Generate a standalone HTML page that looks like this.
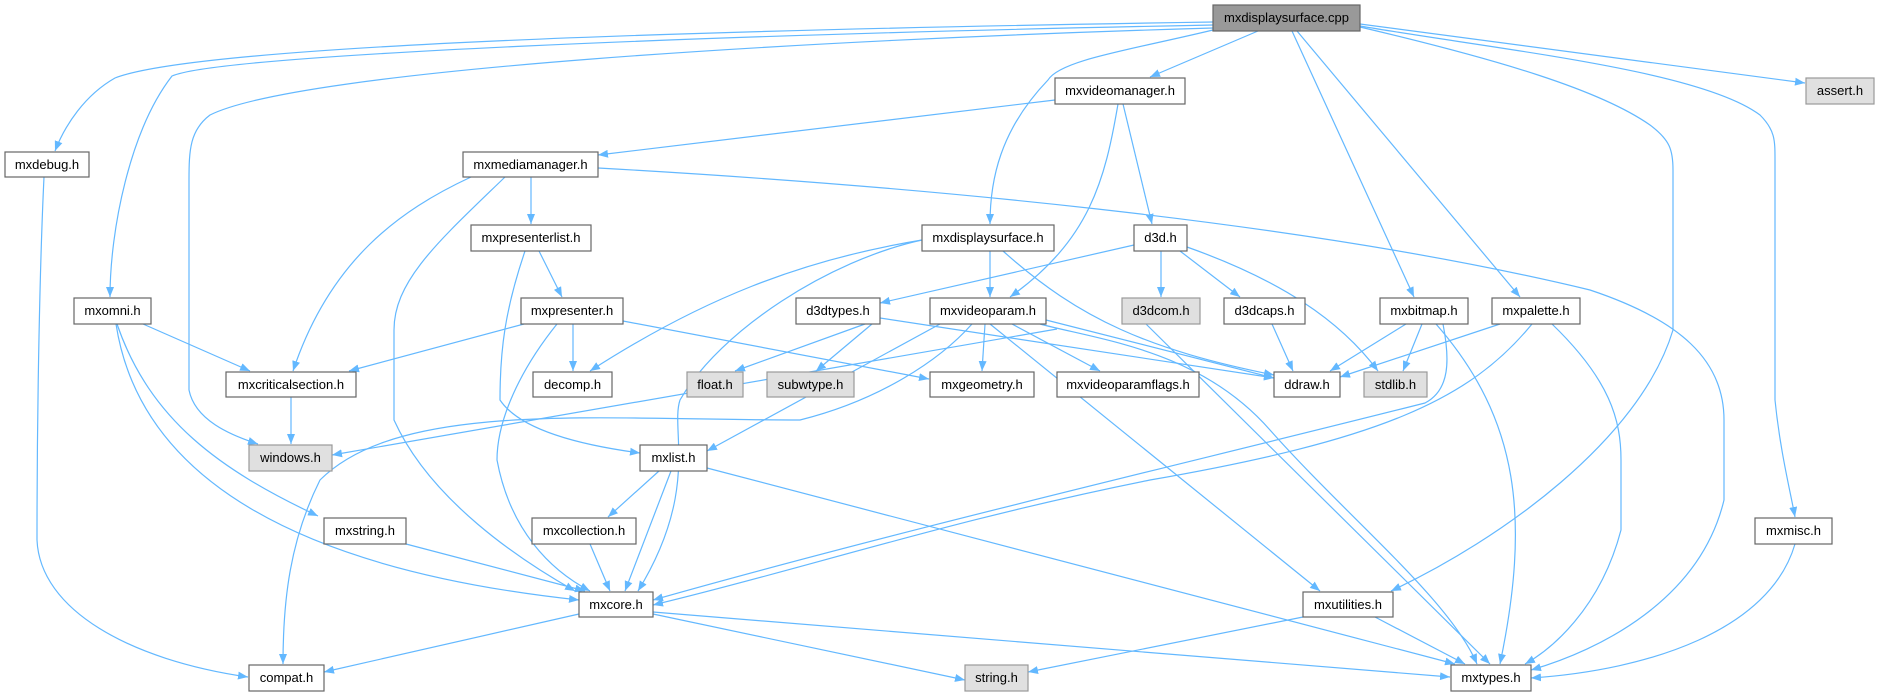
<!DOCTYPE html>
<html><head><meta charset="utf-8"><style>
html,body{margin:0;padding:0;background:#fff;}
svg{display:block;}
text{font-family:"Liberation Sans",Helvetica,Arial,sans-serif;font-size:13px;fill:#000;}
.e{fill:none;stroke:#63b8ff;stroke-width:1.2;}
.n rect{fill:#fff;stroke:#666;stroke-width:1.2;}
.g rect{fill:#e0e0e0;stroke:#999;stroke-width:1.2;}
</style></head><body>
<svg width="1883" height="696" viewBox="0 0 1883 696" xmlns="http://www.w3.org/2000/svg">
<defs><marker id="a" viewBox="0 0 10 8" refX="10" refY="4" markerWidth="10" markerHeight="8" markerUnits="userSpaceOnUse" orient="auto"><path d="M0,0 L10,4 L0,8 z" fill="#63b8ff"/></marker></defs>
<g class="e" marker-end="url(#a)">
<!-- from cpp -->
<path d="M1213,22 C700,30 200,45 115,78 C85,95 65,125 55,151"/>
<path d="M1213,25 C700,35 220,55 172,76 C130,130 110,230 110,297"/>
<path d="M1213,28 C800,40 300,70 210,115 C190,130 189,150 189,180 L189,390 C195,420 230,435 258,444"/>
<path d="M1258,31 L1150,77"/>
<path d="M1213,30 C1130,50 1060,60 1048,80 C1000,130 990,180 990,224"/>
<path d="M1292,31 L1414,297"/>
<path d="M1297,31 L1520,297"/>
<path d="M1360,24 L1805,83"/>
<path d="M1360,27 C1500,60 1600,90 1650,125 C1670,140 1673,150 1673,170 L1673,330 C1640,440 1500,540 1391,591"/>
<path d="M1360,26 C1500,50 1700,70 1760,115 C1775,130 1775,140 1775,160 L1775,400 C1780,450 1790,490 1795,517"/>
<!-- mxvideomanager -->
<path d="M1055,100 L598,155"/>
<path d="M1118,104 C1105,180 1090,240 1010,297"/>
<path d="M1123,104 L1152,224"/>
<!-- mxmediamanager -->
<path d="M531,177 L531,224"/>
<path d="M471,177 C400,210 330,260 293,371"/>
<path d="M505,177 C440,240 394,280 394,330 L394,420 C430,500 520,560 575,591"/>
<path d="M598,168 C900,185 1300,220 1590,290 C1680,320 1724,360 1724,420 L1724,500 C1700,600 1600,650 1531,670"/>
<!-- mxpresenterlist -->
<path d="M539,251 L562,297"/>
<path d="M525,251 C505,310 500,350 500,400 C520,430 580,445 640,453"/>
<!-- mxdisplaysurface.h -->
<path d="M990,251 L990,297"/>
<path d="M922,240 C800,260 700,300 590,371"/>
<path d="M922,240 C830,260 720,330 680,400 C670,430 700,490 638,591"/>
<path d="M1003,251 C1080,320 1150,350 1274,375"/>
<!-- d3d -->
<path d="M1134,245 L880,303"/>
<path d="M1161,251 L1161,297"/>
<path d="M1180,251 L1240,297"/>
<path d="M1187,247 C1280,280 1340,320 1378,371"/>
<!-- mxomni -->
<path d="M143,324 L250,371"/>
<path d="M117,324 C150,420 220,470 318,516"/>
<path d="M116,324 C140,480 300,570 579,600"/>
<!-- mxpresenter -->
<path d="M524,324 L349,371"/>
<path d="M573,324 L573,371"/>
<path d="M557,324 C520,370 497,420 497,460 C510,530 550,570 590,591"/>
<path d="M623,321 L929,379"/>
<!-- d3dtypes -->
<path d="M865,324 L735,371"/>
<path d="M872,324 L816,371"/>
<path d="M880,318 L1274,378"/>
<!-- mxvideoparam -->
<path d="M985,324 L982,371"/>
<path d="M1012,324 L1100,371"/>
<path d="M1046,320 L1274,378"/>
<path d="M1040,324 C1100,340 1200,350 1270,430 C1350,520 1450,600 1477,664"/>
<path d="M972,324 C940,360 880,400 800,420 C600,420 400,400 320,480 C290,540 283,600 283,664"/>
<!-- others row 4 -->
<path d="M1272,324 L1293,371"/>
<path d="M1406,324 L1330,371"/>
<path d="M1422,324 L1403,371"/>
<path d="M1500,324 L1340,377"/>
<path d="M1443,324 C1450,360 1450,390 1425,403 C1200,460 900,530 653,600"/>
<path d="M1532,324 C1470,400 1380,440 1150,480 C950,520 800,570 653,605"/>
<path d="M1436,324 C1520,420 1530,520 1500,664"/>
<path d="M1552,324 C1610,380 1621,420 1621,460 L1621,530 C1600,610 1550,650 1525,664"/>
<!-- row 5 -->
<path d="M291,397 L291,444"/>
<path d="M990,324 L1320,591"/>
<path d="M940,324 L707,451"/>
<path d="M1057,329 L332,455"/>
<path d="M1146,324 L1490,664"/>
<!-- row 6+ -->
<path d="M659,471 L608,517"/>
<path d="M671,471 L625,591"/>
<path d="M707,468 L1455,664"/>
<path d="M590,544 L610,591"/>
<path d="M406,544 L585,591"/>
<path d="M1795,544 C1770,630 1650,670 1531,678"/>
<path d="M1375,617 L1465,664"/>
<path d="M1303,617 L1028,672"/>
<path d="M579,614 L324,672"/>
<path d="M653,614 L965,680"/>
<path d="M653,612 L1450,677"/>
<path d="M44,177 C40,260 37,400 37,540 C40,610 130,660 248,677"/>
</g>
<g>
<g style="fill:#999"><rect x="1213" y="5" width="147" height="26" fill="#999" stroke="#666" stroke-width="1.2"/><text x="1286.5" y="22" text-anchor="middle">mxdisplaysurface.cpp</text></g>
<g class="n"><rect x="1055" y="78" width="130" height="26"/><text x="1120" y="95" text-anchor="middle">mxvideomanager.h</text></g>
<g class="g"><rect x="1806" y="78" width="68" height="26"/><text x="1840" y="95" text-anchor="middle">assert.h</text></g>
<g class="n"><rect x="5" y="152" width="84" height="25"/><text x="47" y="169" text-anchor="middle">mxdebug.h</text></g>
<g class="n"><rect x="463" y="152" width="135" height="25"/><text x="530.5" y="169" text-anchor="middle">mxmediamanager.h</text></g>
<g class="n"><rect x="471" y="225" width="120" height="26"/><text x="531" y="242" text-anchor="middle">mxpresenterlist.h</text></g>
<g class="n"><rect x="922" y="225" width="132" height="26"/><text x="988" y="242" text-anchor="middle">mxdisplaysurface.h</text></g>
<g class="n"><rect x="1134" y="225" width="53" height="26"/><text x="1160.5" y="242" text-anchor="middle">d3d.h</text></g>
<g class="n"><rect x="74" y="298" width="77" height="26"/><text x="112.5" y="315" text-anchor="middle">mxomni.h</text></g>
<g class="n"><rect x="521" y="298" width="102" height="26"/><text x="572" y="315" text-anchor="middle">mxpresenter.h</text></g>
<g class="n"><rect x="796" y="298" width="84" height="26"/><text x="838" y="315" text-anchor="middle">d3dtypes.h</text></g>
<g class="n"><rect x="930" y="298" width="116" height="26"/><text x="988" y="315" text-anchor="middle">mxvideoparam.h</text></g>
<g class="g"><rect x="1122" y="298" width="78" height="26"/><text x="1161" y="315" text-anchor="middle">d3dcom.h</text></g>
<g class="n"><rect x="1224" y="298" width="81" height="26"/><text x="1264.5" y="315" text-anchor="middle">d3dcaps.h</text></g>
<g class="n"><rect x="1380" y="298" width="88" height="26"/><text x="1424" y="315" text-anchor="middle">mxbitmap.h</text></g>
<g class="n"><rect x="1492" y="298" width="88" height="26"/><text x="1536" y="315" text-anchor="middle">mxpalette.h</text></g>
<g class="n"><rect x="226" y="372" width="130" height="25"/><text x="291" y="389" text-anchor="middle">mxcriticalsection.h</text></g>
<g class="n"><rect x="533" y="372" width="79" height="25"/><text x="572.5" y="389" text-anchor="middle">decomp.h</text></g>
<g class="g"><rect x="687" y="372" width="56" height="25"/><text x="715" y="389" text-anchor="middle">float.h</text></g>
<g class="g"><rect x="767" y="372" width="87" height="25"/><text x="810.5" y="389" text-anchor="middle">subwtype.h</text></g>
<g class="n"><rect x="930" y="372" width="104" height="25"/><text x="982" y="389" text-anchor="middle">mxgeometry.h</text></g>
<g class="n"><rect x="1057" y="372" width="142" height="25"/><text x="1128" y="389" text-anchor="middle">mxvideoparamflags.h</text></g>
<g class="n"><rect x="1274" y="372" width="66" height="25"/><text x="1307" y="389" text-anchor="middle">ddraw.h</text></g>
<g class="g"><rect x="1364" y="372" width="63" height="25"/><text x="1395.5" y="389" text-anchor="middle">stdlib.h</text></g>
<g class="g"><rect x="249" y="445" width="83" height="26"/><text x="290.5" y="462" text-anchor="middle">windows.h</text></g>
<g class="n"><rect x="640" y="445" width="67" height="26"/><text x="673.5" y="462" text-anchor="middle">mxlist.h</text></g>
<g class="n"><rect x="324" y="518" width="82" height="26"/><text x="365" y="535" text-anchor="middle">mxstring.h</text></g>
<g class="n"><rect x="532" y="518" width="104" height="26"/><text x="584" y="535" text-anchor="middle">mxcollection.h</text></g>
<g class="n"><rect x="1755" y="518" width="77" height="26"/><text x="1793.5" y="535" text-anchor="middle">mxmisc.h</text></g>
<g class="n"><rect x="579" y="592" width="74" height="25"/><text x="616" y="609" text-anchor="middle">mxcore.h</text></g>
<g class="n"><rect x="1303" y="592" width="90" height="25"/><text x="1348" y="609" text-anchor="middle">mxutilities.h</text></g>
<g class="n"><rect x="249" y="665" width="75" height="26"/><text x="286.5" y="682" text-anchor="middle">compat.h</text></g>
<g class="g"><rect x="965" y="665" width="63" height="26"/><text x="996.5" y="682" text-anchor="middle">string.h</text></g>
<g class="n"><rect x="1451" y="665" width="80" height="26"/><text x="1491" y="682" text-anchor="middle">mxtypes.h</text></g>
</g>
</svg>
</body></html>
